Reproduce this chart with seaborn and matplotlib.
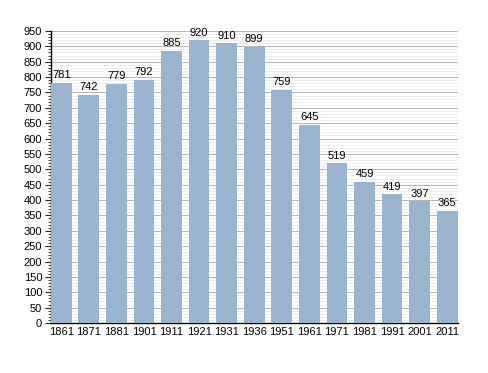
import matplotlib
matplotlib.use('Agg')
import matplotlib.pyplot as plt
import seaborn as sns
import pandas as pd
from matplotlib.ticker import MultipleLocator

# data
years = ["1861", "1871", "1881", "1901", "1911", "1921", "1931", "1936",
         "1951", "1961", "1971", "1981", "1991", "2001", "2011"]
population = [781, 742, 779, 792, 885, 920, 910, 899,
              759, 645, 519, 459, 419, 397, 365]

df = pd.DataFrame({"year": years, "pop": population})

sns.set_style("white")
plt.rcParams['font.family'] = ['Liberation Sans', 'DejaVu Sans']

fig = plt.figure(figsize=(4.88, 3.73), dpi=100)
ax = fig.add_axes([0.1035, 0.134, 0.835, 0.783])

sns.barplot(data=df, x="year", y="pop", color="#9ab4d0", saturation=1,
            width=0.75, ax=ax, zorder=3, edgecolor="none", linewidth=0)

for i, v in enumerate(population):
    ax.text(i, v + 8, str(v), ha="center", va="bottom", fontsize=8,
            color="black", zorder=4)

ax.set_ylim(0, 950)
ax.set_xlim(-0.39, len(years) - 0.61)
ax.yaxis.set_major_locator(MultipleLocator(50))
ax.yaxis.set_minor_locator(MultipleLocator(10))
ax.grid(axis="y", which="major", color="#b4b4b4", linewidth=0.7, zorder=0)
ax.grid(axis="y", which="minor", color="#e6e6e6", linewidth=0.5, zorder=0)
ax.set_axisbelow(True)

ax.tick_params(axis="y", which="major", length=4, width=0.8, labelsize=8,
               direction="out", left=True, pad=2, labelcolor="black")
ax.tick_params(axis="y", which="minor", length=2, width=0.6, left=True)
ax.tick_params(axis="x", length=0, labelsize=8, pad=3, labelcolor="black")

for s in ["top", "right"]:
    ax.spines[s].set_visible(False)
ax.spines["left"].set_color("black")
ax.spines["bottom"].set_color("black")
ax.spines["left"].set_linewidth(1)
ax.spines["bottom"].set_linewidth(1)

ax.set_xlabel("")
ax.set_ylabel("")

fig.savefig("out.png", dpi=100)
